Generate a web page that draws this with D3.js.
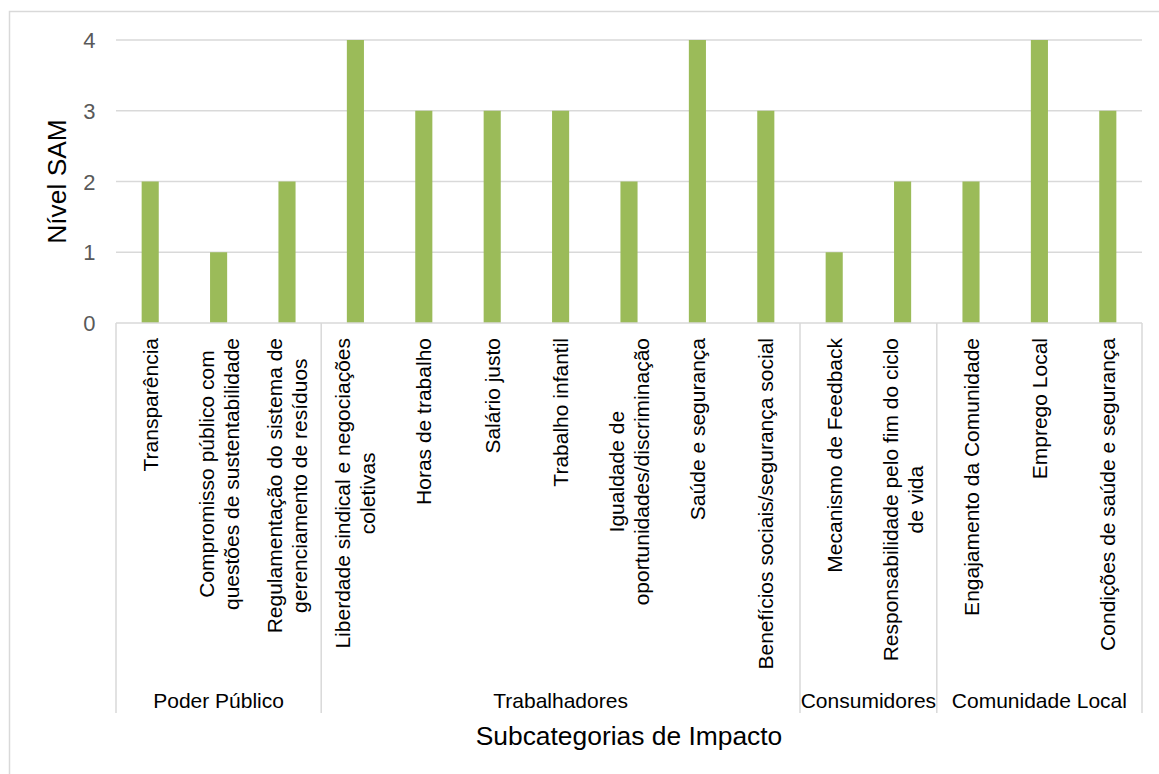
<!DOCTYPE html>
<html>
<head>
<meta charset="utf-8">
<script src="https://cdn.jsdelivr.net/npm/d3@7"></script>
<style>
  html, body { margin: 0; padding: 0; background: #fff; }
  svg { display: block; font-family: "Liberation Sans", Arial, sans-serif; }
</style>
</head>
<body>
<svg id="chart" width="1159" height="774"></svg>
<script>
// Subcategory labels ("\n" marks a line break in the axis label)
const categories = [
  "Transparência",
  "Compromisso público com\nquestões de sustentabilidade",
  "Regulamentação do sistema de\ngerenciamento de resíduos",
  "Liberdade sindical e negociações\ncoletivas",
  "Horas de trabalho",
  "Salário justo",
  "Trabalho infantil",
  "Igualdade de\noportunidades/discriminação",
  "Saúde e segurança",
  "Benefícios sociais/segurança social",
  "Mecanismo de Feedback",
  "Responsabilidade pelo fim do ciclo\nde vida",
  "Engajamento da Comunidade",
  "Emprego Local",
  "Condições de saúde e segurança"
];
const samLevels = [2, 1, 2, 4, 3, 3, 3, 2, 4, 3, 1, 2, 2, 4, 3];
const groupNames = ["Poder Público", "Trabalhadores", "Consumidores", "Comunidade Local"];
const groupSizes = [3, 7, 2, 3];
const yTicks = [0, 1, 2, 3, 4];
const yTitle = "Nível SAM";
const xTitle = "Subcategorias de Impacto";

const svg = d3.select("#chart");
const plot = { left: 116, right: 1142, top: 40, bottom: 323 };
const axisBottom = 713;
const grid = "#d9d9d9";
const labelSize = 21;
const tickSize = 22;
const titleSize = 26.4;

// chart frame
svg.append("rect")
  .attr("x", 9.5).attr("y", 11.5)
  .attr("width", 1170).attr("height", 800)
  .attr("fill", "none").attr("stroke", grid).attr("stroke-width", 1.5);

const x = d3.scaleBand().domain(d3.range(categories.length))
  .range([plot.left, plot.right]).paddingInner(0).paddingOuter(0);
const y = d3.scaleLinear().domain([0, 4]).range([plot.bottom, plot.top]);

// horizontal gridlines
svg.append("g").selectAll("line").data(yTicks.filter(d => d > 0)).join("line")
  .attr("x1", plot.left).attr("x2", plot.right)
  .attr("y1", d => y(d)).attr("y2", d => y(d))
  .attr("stroke", grid).attr("stroke-width", 1.5);

// y tick labels
svg.append("g").selectAll("text").data(yTicks).join("text")
  .attr("x", 95.5).attr("y", d => y(d) + 0.5)
  .attr("text-anchor", "end").attr("dominant-baseline", "central")
  .attr("fill", "#595959").attr("font-size", tickSize)
  .text(d => d);

// bars
const barW = x.bandwidth() * 0.25;
svg.append("g").selectAll("rect").data(samLevels).join("rect")
  .attr("x", (d, i) => x(i) + x.bandwidth() / 2 - barW / 2)
  .attr("width", barW)
  .attr("y", d => y(d))
  .attr("height", d => y(0) - y(d))
  .attr("fill", "#9bbb59");

// category axis line and group separators
svg.append("line")
  .attr("x1", plot.left).attr("x2", plot.right)
  .attr("y1", plot.bottom).attr("y2", plot.bottom)
  .attr("stroke", grid).attr("stroke-width", 1.5);

const groupStarts = [];
let acc = 0;
groupSizes.forEach(n => { groupStarts.push(acc); acc += n; });
const sepIdx = groupStarts.concat([categories.length]);
svg.append("g").selectAll("line").data(sepIdx).join("line")
  .attr("x1", i => i < categories.length ? x(i) : plot.right)
  .attr("x2", i => i < categories.length ? x(i) : plot.right)
  .attr("y1", plot.bottom).attr("y2", axisBottom)
  .attr("stroke", grid).attr("stroke-width", 1.5);

// rotated, possibly two-line category labels
const lineH = 25;
const labels = svg.append("g");
categories.forEach((c, i) => {
  const lines = c.split("\n");
  const g = labels.append("g")
    .attr("transform", `translate(${x(i) + x.bandwidth() / 2},338) rotate(-90)`);
  const ts = lines.map((t, k) => g.append("text")
    .attr("y", (k - (lines.length - 1) / 2) * lineH)
    .attr("dominant-baseline", "central")
    .attr("text-anchor", "middle")
    .attr("font-size", labelSize).attr("fill", "#000")
    .text(t));
  const w = d3.max(ts, t => t.node().getComputedTextLength());
  ts.forEach(t => t.attr("x", -w / 2));
});

// group labels
svg.append("g").selectAll("text").data(groupNames).join("text")
  .attr("x", (d, k) => {
    const a = x(groupStarts[k]);
    const b = groupStarts[k] + groupSizes[k] < categories.length ? x(groupStarts[k] + groupSizes[k]) : plot.right;
    return (a + b) / 2;
  })
  .attr("y", 708)
  .attr("text-anchor", "middle").attr("font-size", labelSize).attr("fill", "#000")
  .text(d => d);

// axis titles
svg.append("text")
  .attr("transform", `translate(57,${(plot.top + plot.bottom) / 2}) rotate(-90)`)
  .attr("text-anchor", "middle").attr("dominant-baseline", "central")
  .attr("font-size", titleSize).attr("fill", "#000")
  .text(yTitle);
svg.append("text")
  .attr("x", (plot.left + plot.right) / 2).attr("y", 745)
  .attr("text-anchor", "middle").attr("font-size", titleSize).attr("fill", "#000")
  .text(xTitle);
</script>
</body>
</html>
